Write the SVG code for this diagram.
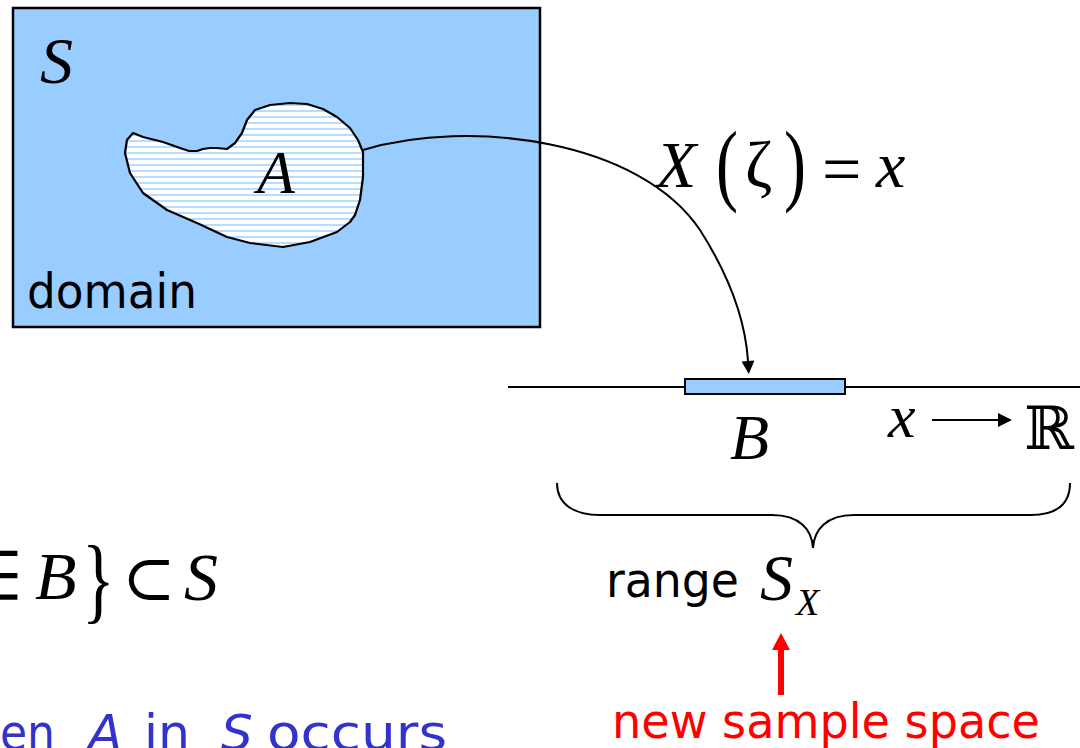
<svg xmlns="http://www.w3.org/2000/svg" width="1080" height="748" viewBox="0 0 1080 748">
<style>
.m{font-family:"Liberation Serif","Times New Roman",serif;font-style:italic;fill:#000}
.r{font-family:"Liberation Serif","Times New Roman",serif;fill:#000}
.s{font-family:"DejaVu Sans",Verdana,sans-serif;fill:#000}
.ln{fill:none;stroke:#000;stroke-width:2}
</style>
<defs>
<pattern id="hatch" width="8" height="6" patternUnits="userSpaceOnUse">
<rect width="8" height="6" fill="#ffffff"/>
<rect y="2" width="8" height="2" fill="#b8dcff"/>
</pattern>
<marker id="ah" viewBox="0 0 10 10" refX="0" refY="5" markerUnits="userSpaceOnUse" markerWidth="15" markerHeight="13" orient="auto">
<path d="M0,0 L10,5 L0,10 z" fill="#000"/>
</marker>
</defs>
<rect width="1080" height="748" fill="#fff"/>

<g id="domain">
<rect x="13" y="8" width="527" height="319" fill="#99ccff" stroke="#000" stroke-width="2.5"/>
<text class="m" x="40" y="83" font-size="66">S</text>
<text class="s" x="27" y="308" font-size="48" textLength="170" lengthAdjust="spacingAndGlyphs">domain</text>
</g>

<g id="setA">
<path d="M133,133 L143,137 L163,142 L180,148 L189,151 L197,151 L203,149 L210,148 L217,148 L227,149 L235,143 L242,133 L247,120 L255,110 L270,105 L290,103 L307,104 L323,109 L337,117 L350,128 L358,140 L363,152 L363,177 L360,200 L355,215 L350,222 L337,232 L310,242 L283,247 L250,243 L227,237 L197,223 L167,210 L143,193 L130,173 L125,153 L127,140 Z" fill="url(#hatch)" stroke="#000" stroke-width="2.2" stroke-linejoin="round"/>
<text class="m" x="257" y="193" font-size="62">A</text>
</g>

<g id="mapping-label">
<text class="m" x="656" y="187" font-size="66">X</text>
<text class="r" x="0" y="0" font-size="66" transform="translate(716,194) scale(1,1.38)">(</text>
<text class="r" x="745" y="187" font-size="66">ζ</text>
<text class="r" x="0" y="0" font-size="66" transform="translate(784,194) scale(1,1.38)">)</text>
<text class="r" x="822" y="193" font-size="70">=</text>
<text class="m" x="876" y="187" font-size="66">x</text>
</g>

<g id="real-line">
<line x1="508" y1="387" x2="1080" y2="387" stroke="#000" stroke-width="2"/>
<rect x="685" y="379" width="160" height="15" fill="#99ccff" stroke="#000" stroke-width="2"/>
<text class="m" x="730" y="459" font-size="64">B</text>
<text class="m" x="888" y="437" font-size="62">x</text>
<line x1="932" y1="420" x2="999" y2="420" stroke="#000" stroke-width="2"/>
<polygon points="998,413 1012,420 998,427" fill="#000"/>
<text x="1024" y="449" font-size="60" font-family="'DejaVu Serif',serif">ℝ</text>
</g>

<g id="range">
<path class="ln" d="M557,483 C557,505 575,515 600,515 L772,515 C800,515 812,530 813,548 C814,530 826,515 854,515 L1030,515 C1055,515 1070,505 1070,483"/>
<text class="s" x="606" y="597" font-size="48" textLength="133" lengthAdjust="spacingAndGlyphs">range</text>
<text class="m" x="760" y="600" font-size="66">S</text>
<text class="m" x="796" y="615" font-size="38">X</text>
</g>

<g id="new-sample-space">
<rect x="778" y="649" width="6" height="46" fill="#ff0000"/>
<polygon points="772,650 790,650 781,633" fill="#ff0000"/>
<text class="s" x="612" y="738" font-size="48" style="fill:#ff0000" textLength="428" lengthAdjust="spacingAndGlyphs">new sample space</text>
</g>

<g id="preimage-formula">
<text class="r" x="-36" y="599" font-size="68" font-family="'DejaVu Serif',serif">∈</text>
<text class="m" x="35" y="599" font-size="68">B</text>
<text class="r" x="0" y="0" font-size="68" transform="translate(82,611) scale(1,1.4)">}</text>
<text x="122" y="600" font-size="64" font-family="'DejaVu Serif',serif">⊂</text>
<text class="m" x="184" y="600" font-size="68">S</text>
</g>

<g id="event-text">
<text font-family="'DejaVu Sans',Verdana,sans-serif" font-size="50" fill="#3333cc" y="750"><tspan x="0" textLength="55" lengthAdjust="spacingAndGlyphs">en</tspan><tspan x="88" font-style="italic">A</tspan><tspan x="144" textLength="46" lengthAdjust="spacingAndGlyphs">in</tspan><tspan x="221" font-style="italic">S</tspan><tspan x="267" textLength="180" lengthAdjust="spacingAndGlyphs">occurs</tspan></text>
</g>

<g id="connectors">
<path class="ln" d="M363,150 C470,118 640,140 700,230 C735,285 746,330 748,361" marker-end="url(#ah)"/>
</g>
</svg>
